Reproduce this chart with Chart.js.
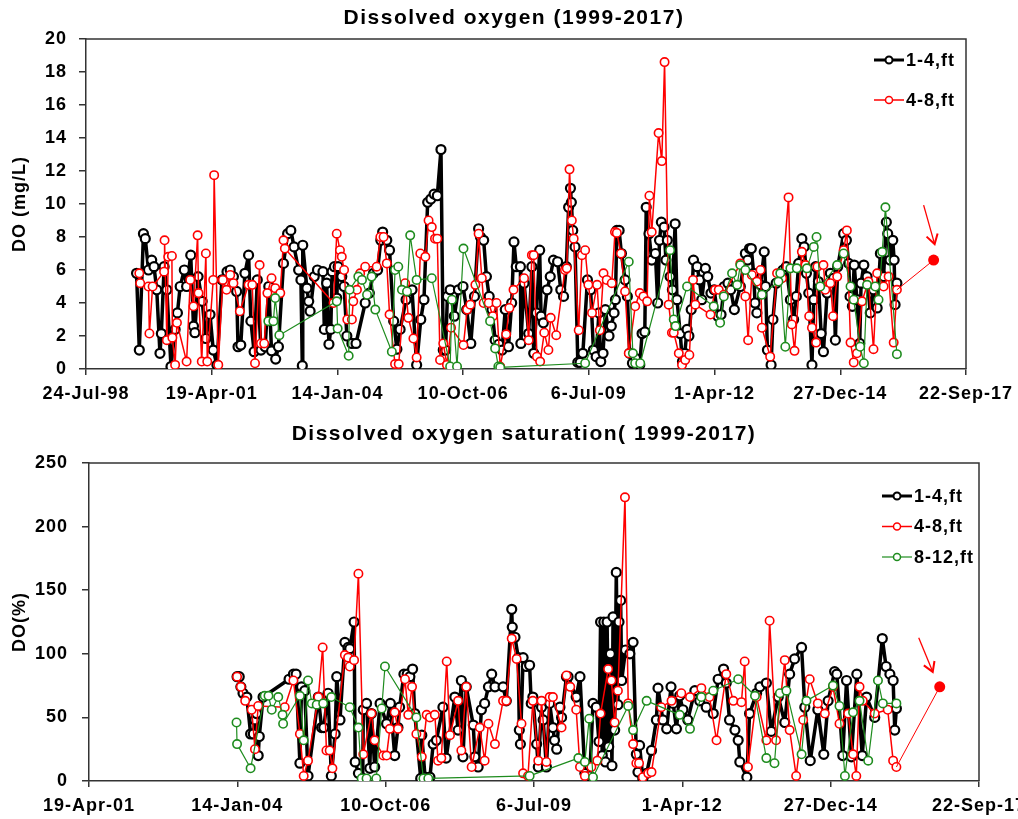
<!DOCTYPE html>
<html>
<head>
<meta charset="utf-8">
<script src="https://cdn.jsdelivr.net/npm/chart.js@4.4.0/dist/chart.umd.min.js"></script>
<style>
  html, body { margin: 0; padding: 0; background: #fff; }
  .panel { position: relative; width: 1018px; }
  canvas { display: block; }
</style>
</head>
<body>
<div class="panel" style="height:410px"><canvas id="chartDO"></canvas></div>
<div class="panel" style="height:409px"><canvas id="chartSat"></canvas></div>
<script>
// ---- axis ticks (dates as decimal years, labels as printed) ----
const DO_TICK_YEARS = [1998.559, 2001.297, 2004.035, 2006.773, 2009.511, 2012.249, 2014.987, 2017.725];
const DO_TICK_LABELS = ['24-Jul-98', '19-Apr-01', '14-Jan-04', '10-Oct-06', '6-Jul-09', '1-Apr-12', '27-Dec-14', '22-Sep-17'];
const SAT_TICK_YEARS = [2001.297, 2004.035, 2006.773, 2009.511, 2012.249, 2014.987, 2017.725];
const SAT_TICK_LABELS = ['19-Apr-01', '14-Jan-04', '10-Oct-06', '6-Jul-09', '1-Apr-12', '27-Dec-14', '22-Sep-17'];

// ---- dissolved oxygen, mg/L : [year, value] ----
const doShallow = [
  [1999.66,5.8],[1999.72,1.15],[1999.81,8.2],[1999.85,7.9],[1999.92,6.0],[1999.99,6.6],[2000.04,6.2],[2000.10,4.8],
  [2000.17,0.95],[2000.20,2.15],[2000.26,6.2],[2000.32,4.8],[2000.41,0.15],[2000.50,2.4],[2000.55,3.4],[2000.61,5.0],
  [2000.70,6.0],[2000.75,5.0],[2000.84,6.9],[2000.90,2.6],[2000.93,2.2],[2001.00,5.6],[2001.09,4.1],[2001.17,1.85],
  [2001.26,3.3],[2001.33,1.15],[2001.41,0.25],[2001.52,5.4],[2001.63,5.9],[2001.70,6.0],[2001.77,5.6],[2001.84,4.7],
  [2001.87,1.35],[2001.93,1.45],[2002.02,5.8],[2002.10,6.9],[2002.15,2.9],[2002.22,1.05],[2002.29,5.4],[2002.37,1.15],
  [2002.46,1.35],[2002.54,5.0],[2002.60,1.1],[2002.69,0.6],[2002.75,1.35],[2002.86,6.4],[2002.95,8.2],[2003.02,8.4],
  [2003.09,7.4],[2003.19,6.0],[2003.24,5.4],[2003.27,0.2],[2003.28,7.5],[2003.37,4.9],[2003.41,4.1],[2003.44,3.5],
  [2003.53,5.6],[2003.60,6.0],[2003.72,5.9],[2003.75,2.4],[2003.80,5.2],[2003.85,1.5],[2003.89,2.4],[2003.92,5.9],
  [2003.97,6.2],[2004.02,4.3],[2004.05,6.2],[2004.13,5.6],[2004.18,5.0],[2004.24,2.0],[2004.35,1.55],[2004.44,1.55],
  [2004.64,4.0],[2004.73,4.6],[2004.82,5.8],[2004.91,6.0],[2004.98,7.8],[2005.02,8.3],[2005.11,7.8],[2005.17,7.2],
  [2005.26,2.9],[2005.33,1.2],[2005.40,2.4],[2005.53,4.2],[2005.66,4.8],[2005.76,0.25],[2005.85,3.0],[2005.92,4.2],
  [2006.00,10.1],[2006.07,10.3],[2006.14,10.6],[2006.21,10.5],[2006.29,13.3],[2006.34,1.15],[2006.39,1.15],[2006.43,4.4],
  [2006.49,4.8],[2006.58,3.2],[2006.67,4.8],[2006.77,5.0],[2006.85,3.6],[2006.94,1.55],[2007.02,4.4],[2007.11,8.5],
  [2007.15,8.0],[2007.22,7.8],[2007.28,5.6],[2007.34,4.4],[2007.40,3.6],[2007.47,1.75],[2007.55,1.5],[2007.62,1.15],
  [2007.69,3.6],[2007.76,1.35],[2007.83,4.0],[2007.88,7.7],[2007.93,6.2],[2008.02,6.2],[2008.03,1.55],[2008.10,5.2],
  [2008.20,2.15],[2008.27,6.2],[2008.31,0.95],[2008.37,3.4],[2008.44,7.2],[2008.47,3.2],[2008.52,2.8],[2008.60,4.8],
  [2008.67,5.6],[2008.74,6.6],[2008.83,6.5],[2008.90,4.8],[2008.96,4.4],[2009.02,6.2],[2009.07,9.8],[2009.11,10.95],
  [2009.13,10.1],[2009.16,8.4],[2009.21,7.4],[2009.27,0.4],[2009.32,0.4],[2009.38,0.95],[2009.48,5.4],[2009.55,4.8],
  [2009.61,1.15],[2009.67,0.75],[2009.73,3.4],[2009.77,0.45],[2009.82,0.95],[2009.87,3.6],[2009.95,2.0],[2010.00,2.6],
  [2010.06,3.4],[2010.09,4.2],[2010.12,8.4],[2010.17,8.4],[2010.22,7.0],[2010.30,5.4],[2010.35,4.4],[2010.40,0.95],
  [2010.46,0.35],[2010.53,0.65],[2010.62,0.25],[2010.67,2.15],[2010.73,2.25],[2010.76,9.8],[2010.82,8.2],[2010.88,6.6],
  [2010.96,7.0],[2011.01,4.0],[2011.05,7.8],[2011.09,8.9],[2011.15,8.6],[2011.19,6.6],[2011.22,7.8],[2011.28,5.6],
  [2011.33,4.8],[2011.39,8.8],[2011.43,4.2],[2011.50,2.15],[2011.55,0.45],[2011.60,0.95],[2011.65,2.4],[2011.69,2.0],
  [2011.74,3.6],[2011.79,6.6],[2011.87,6.2],[2011.92,5.4],[2011.97,4.2],[2012.05,6.1],[2012.10,5.6],[2012.17,4.6],
  [2012.24,4.8],[2012.32,3.2],[2012.39,3.3],[2012.46,5.0],[2012.54,5.2],[2012.60,4.8],[2012.68,3.6],[2012.81,5.0],
  [2012.92,7.0],[2012.97,6.6],[2013.01,7.3],[2013.05,7.3],[2013.10,5.8],[2013.13,4.0],[2013.17,3.4],[2013.25,5.1],
  [2013.33,7.1],[2013.36,5.0],[2013.40,1.15],[2013.48,0.25],[2013.52,3.0],[2013.59,5.2],[2013.68,5.8],[2013.74,6.0],
  [2013.81,6.2],[2013.90,4.2],[2013.97,3.0],[2014.03,4.4],[2014.08,6.4],[2014.15,7.9],[2014.20,7.4],[2014.25,5.8],
  [2014.30,4.6],[2014.37,0.25],[2014.41,4.2],[2014.45,6.2],[2014.51,5.3],[2014.57,2.15],[2014.62,1.05],[2014.70,4.6],
  [2014.77,5.8],[2014.84,5.5],[2014.88,1.75],[2014.93,6.2],[2015.06,8.2],[2015.12,7.8],[2015.17,6.4],[2015.20,4.4],
  [2015.25,3.8],[2015.29,6.3],[2015.35,4.2],[2015.41,1.55],[2015.44,5.2],[2015.50,6.3],[2015.57,5.6],[2015.64,3.4],
  [2015.71,4.8],[2015.79,3.7],[2015.86,7.0],[2015.93,5.6],[2015.99,8.9],[2016.02,8.2],[2016.07,6.6],[2016.13,7.8],
  [2016.16,6.6],[2016.18,3.9],[2016.22,5.2]
];
const doMid = [
  [1999.72,5.8],[1999.74,5.2],[1999.92,5.0],[1999.94,2.15],[2000.01,5.0],[2000.26,5.9],[2000.27,7.8],[2000.32,1.75],
  [2000.35,6.8],[2000.43,6.85],[2000.44,1.9],[2000.50,0.25],[2000.54,2.8],[2000.75,0.45],[2000.83,5.4],[2000.90,3.8],
  [2000.99,8.1],[2001.01,4.6],[2001.08,0.45],[2001.17,7.0],[2001.20,0.45],[2001.33,5.4],[2001.35,11.75],[2001.44,0.25],
  [2001.54,5.4],[2001.62,4.8],[2001.70,5.7],[2001.77,5.2],[2001.91,3.5],[2002.10,5.1],[2002.18,5.1],[2002.24,0.35],
  [2002.34,6.3],[2002.37,1.55],[2002.44,1.55],[2002.51,4.6],[2002.60,5.5],[2002.68,4.9],[2002.79,4.6],[2002.86,7.8],
  [2002.89,7.3],[2003.95,4.0],[2004.02,8.2],[2004.09,7.2],[2004.13,6.8],[2004.18,6.0],[2004.25,3.0],[2004.35,3.0],
  [2004.38,4.1],[2004.46,4.8],[2004.53,5.8],[2004.64,6.2],[2004.89,6.2],[2004.97,8.0],[2005.04,8.0],[2005.11,6.4],
  [2005.17,3.3],[2005.29,0.3],[2005.37,0.3],[2005.51,5.2],[2005.58,3.1],[2005.69,1.85],[2005.76,0.7],[2005.84,7.0],
  [2005.95,6.8],[2006.02,9.0],[2006.09,8.6],[2006.16,7.9],[2006.21,7.9],[2006.27,0.55],[2006.34,1.55],[2006.42,0.25],
  [2006.51,2.5],[2006.78,1.45],[2006.86,3.6],[2006.93,3.9],[2007.04,5.1],[2007.11,8.2],[2007.18,5.5],[2007.22,4.0],
  [2007.33,4.0],[2007.42,3.2],[2007.50,4.0],[2007.58,0.15],[2007.71,2.1],[2007.78,3.7],[2007.87,4.8],[2008.10,5.5],
  [2008.20,1.75],[2008.27,6.9],[2008.31,6.9],[2008.38,0.75],[2008.45,0.45],[2008.54,2.2],[2008.63,1.15],[2008.68,3.1],
  [2008.80,2.05],[2008.99,6.0],[2009.03,6.1],[2009.09,12.1],[2009.14,9.0],[2009.18,7.9],[2009.29,2.35],[2009.36,6.9],
  [2009.43,7.2],[2009.50,5.1],[2009.58,3.4],[2009.69,5.1],[2009.75,2.35],[2009.83,5.8],[2009.90,5.4],[2010.01,5.2],
  [2010.08,8.3],[2010.12,8.25],[2010.21,7.0],[2010.30,4.7],[2010.38,0.95],[2010.52,3.8],[2010.62,4.6],[2010.70,4.4],
  [2010.78,4.1],[2010.83,10.5],[2010.88,8.3],[2011.03,14.3],[2011.10,12.6],[2011.16,18.6],[2011.25,3.9],[2011.32,2.2],
  [2011.36,2.2],[2011.47,0.95],[2011.54,0.25],[2011.61,0.55],[2011.70,0.85],[2011.78,5.4],[2011.83,3.9],[2012.16,3.3],
  [2012.26,4.8],[2012.34,4.8],[2012.45,4.5],[2012.81,6.4],[2012.92,4.4],[2012.98,1.75],[2013.06,5.7],[2013.17,5.3],
  [2013.25,6.0],[2013.28,2.5],[2013.46,0.75],[2013.61,5.8],[2013.72,5.5],[2013.86,10.4],[2013.93,2.7],[2013.99,1.1],
  [2014.15,7.1],[2014.23,6.3],[2014.31,3.2],[2014.37,2.5],[2014.46,1.6],[2014.49,6.2],[2014.62,6.3],[2014.66,4.8],
  [2014.77,5.2],[2014.83,3.2],[2014.92,5.6],[2015.06,7.2],[2015.13,8.4],[2015.21,1.6],[2015.28,0.4],[2015.35,0.95],
  [2015.46,4.1],[2015.60,5.3],[2015.71,1.2],[2015.79,5.8],[2015.93,5.0],[2016.04,5.6],[2016.15,1.6],[2016.22,4.8]
];
const doDeep = [
  [2002.53,2.9],[2002.64,2.9],[2002.68,4.3],[2002.77,2.05],[2004.02,4.1],[2004.04,2.45],[2004.28,0.8],[2004.30,4.8],
  [2004.49,5.6],[2004.57,5.4],[2004.68,4.5],[2004.78,5.6],[2004.86,3.6],[2005.22,1.05],[2005.29,6.0],[2005.36,6.2],
  [2005.44,4.8],[2005.55,4.7],[2005.62,8.1],[2005.76,5.4],[2006.09,5.5],[2006.49,0.15],[2006.53,4.2],[2006.64,0.15],
  [2006.78,7.3],[2007.36,2.9],[2007.47,1.25],[2007.54,0.15],[2007.58,0.1],[2009.43,0.35],[2010.38,6.5],[2010.47,0.95],
  [2010.52,0.35],[2010.63,0.35],[2011.28,7.2],[2011.36,3.0],[2011.40,2.6],[2011.65,5.0],[2012.23,3.8],[2012.37,2.8],
  [2012.45,4.4],[2012.63,5.8],[2012.74,5.1],[2012.81,6.3],[2012.92,6.0],[2013.28,4.5],[2013.64,5.3],[2013.68,5.8],
  [2013.79,1.35],[2013.90,6.1],[2014.04,6.1],[2014.26,6.1],[2014.41,7.4],[2014.47,8.0],[2014.55,5.0],[2014.92,6.3],
  [2015.06,7.0],[2015.21,5.0],[2015.28,4.2],[2015.42,1.35],[2015.50,0.35],[2015.57,5.1],[2015.75,5.0],[2015.82,4.2],
  [2015.90,7.1],[2015.97,9.8],[2016.22,0.9]
];
const doLatest = [2017.02, 6.6];

// ---- dissolved oxygen saturation, % : [year, value] ----
const satShallow = [
  [2004.03,82],[2004.07,82],[2004.10,74],[2004.14,69],[2004.21,66],[2004.28,37],[2004.33,37],[2004.36,48],[2004.39,53],
  [2004.42,20],[2004.44,35],[2004.51,66],[2004.99,80],[2005.07,84],[2005.12,84],[2005.19,14],[2005.22,74],[2005.28,71],
  [2005.34,4],[2005.53,66],[2005.59,42],[2005.63,42],[2005.71,69],[2005.77,4],[2005.84,37],[2005.87,82],[2005.93,48],
  [2006.02,109],[2006.08,105],[2006.11,104],[2006.19,125],[2006.21,15],[2006.27,6],[2006.35,2],[2006.36,56],[2006.42,61],
  [2006.48,10],[2006.51,53],[2006.57,11],[2006.67,61],[2006.79,45],[2006.86,61],[2006.94,20],[2007.00,42],[2007.03,58],
  [2007.11,84],[2007.17,84],[2007.22,82],[2007.27,88],[2007.31,53],[2007.42,2],[2007.44,36],[2007.50,3],[2007.59,3],
  [2007.65,29],[2007.71,32],[2007.83,58],[2007.89,18],[2008.05,66],[2008.11,40],[2008.17,79],[2008.20,19],[2008.26,74],
  [2008.39,44],[2008.42,19],[2008.48,11],[2008.54,56],[2008.60,61],[2008.67,74],[2008.73,84],[2008.79,74],[2008.94,74],
  [2009.00,63],[2009.10,135],[2009.11,121],[2009.16,113],[2009.22,97],[2009.24,40],[2009.26,29],[2009.31,97],[2009.37,90],
  [2009.43,91],[2009.46,61],[2009.49,66],[2009.56,29],[2009.59,11],[2009.65,58],[2009.68,48],[2009.74,11],[2009.80,61],
  [2009.86,42],[2009.89,32],[2009.93,25],[2009.99,58],[2010.02,50],[2010.11,82],[2010.14,82],[2010.29,66],[2010.36,82],
  [2010.45,6],[2010.51,3],[2010.54,4],[2010.60,61],[2010.66,58],[2010.71,31],[2010.74,125],[2010.77,20],[2010.80,125],
  [2010.83,15],[2010.86,125],[2010.89,27],[2010.92,100],[2010.95,12],[2010.97,129],[2011.00,40],[2011.03,164],[2011.06,60],
  [2011.08,125],[2011.11,142],[2011.13,79],[2011.20,103],[2011.28,100],[2011.34,109],[2011.40,21],
  [2011.43,7],[2011.46,28],[2011.52,2],[2011.59,6],[2011.68,24],[2011.77,48],[2011.80,73],[2011.89,48],[2011.96,41],
  [2012.04,74],[2012.08,61],[2012.14,41],[2012.20,67],[2012.26,56],[2012.35,48],[2012.48,71],[2012.57,63],[2012.69,58],
  [2012.82,53],[2012.91,80],[2013.01,88],[2013.06,77],[2013.12,48],[2013.22,40],[2013.28,32],[2013.31,15],[2013.44,3],
  [2013.49,53],[2013.62,69],[2013.68,74],[2013.80,77],[2013.89,39],[2014.02,66],[2014.14,46],[2014.23,84],[2014.32,96],
  [2014.45,105],[2014.51,58],[2014.61,16],[2014.75,56],[2014.86,21],[2014.94,63],[2015.06,86],[2015.10,84],[2015.21,20],
  [2015.28,79],[2015.37,19],[2015.47,84],[2015.57,20],[2015.65,66],[2015.80,50],[2015.94,112],[2016.01,90],[2016.08,84],
  [2016.14,79],[2016.17,40],[2016.20,57]
];
const satMid = [
  [2004.03,82],[2004.10,74],[2004.18,63],[2004.30,56],[2004.36,25],[2004.42,59],[2004.91,58],[2005.07,79],[2005.19,37],
  [2005.26,4],[2005.34,16],[2005.53,66],[2005.61,105],[2005.68,24],[2005.74,24],[2005.79,10],[2006.02,99],[2006.08,97],
  [2006.11,90],[2006.19,95],[2006.27,163],[2006.36,21],[2006.51,53],[2006.57,32],[2006.73,20],[2006.79,20],[2006.85,41],
  [2006.94,54],[2007.00,41],[2007.13,80],[2007.19,52],[2007.26,74],[2007.34,37],[2007.44,19],[2007.53,52],[2007.59,50],
  [2007.68,52],[2007.74,16],[2007.80,18],[2007.90,94],[2007.96,36],[2008.11,63],[2008.17,24],[2008.26,74],[2008.36,11],
  [2008.51,42],[2008.60,16],[2008.67,45],[2008.79,29],[2008.94,63],[2009.00,63],[2009.10,112],[2009.19,96],[2009.28,45],
  [2009.31,6],[2009.40,4],[2009.49,63],[2009.59,16],[2009.65,63],[2009.74,15],[2009.80,66],[2009.86,66],[2010.02,42],
  [2010.11,83],[2010.18,74],[2010.29,56],[2010.36,11],[2010.45,4],[2010.57,11],[2010.68,16],[2010.74,53],[2010.88,88],
  [2010.94,79],[2011.00,46],[2011.06,71],[2011.19,223],[2011.25,61],[2011.34,29],[2011.40,14],[2011.45,14],[2011.52,3],
  [2011.62,6],[2011.68,7],[2011.86,58],[2012.05,63],[2012.23,69],[2012.39,66],[2012.60,73],[2012.75,66],[2012.88,32],
  [2013.06,84],[2013.19,63],[2013.34,62],[2013.40,94],[2013.46,11],[2013.62,66],[2013.80,32],[2013.86,126],[2013.98,32],
  [2014.14,95],[2014.23,40],[2014.35,4],[2014.48,48],[2014.60,80],[2014.75,61],[2014.88,53],[2015.03,74],[2015.15,45],
  [2015.31,53],[2015.40,21],[2015.46,4],[2015.52,74],[2015.58,63],[2015.80,53],[2016.04,56],[2016.14,16],[2016.20,11]
];
const satDeep = [
  [2004.02,46],[2004.03,29],[2004.28,10],[2004.54,67],[2004.61,67],[2004.67,56],[2004.79,66],[2004.87,52],[2004.88,45],
  [2005.19,67],[2005.26,32],[2005.34,79],[2005.41,61],[2005.50,60],[2005.62,61],[2005.77,66],[2006.11,58],[2006.27,42],
  [2006.33,2],[2006.42,2],[2006.60,2],[2006.70,57],[2006.76,90],[2007.34,50],[2007.47,2],[2007.56,2],[2009.43,4],
  [2010.33,18],[2010.45,15],[2010.53,49],[2010.60,3],[2011.25,59],[2011.34,40],[2011.59,63],[2012.20,52],[2012.39,41],
  [2012.60,66],[2012.82,71],[2013.28,80],[2013.59,67],[2013.80,18],[2013.95,14],[2014.05,69],[2014.17,71],[2014.45,21],
  [2014.54,63],[2015.03,75],[2015.15,59],[2015.25,4],[2015.40,54],[2015.52,63],[2015.68,16],[2015.86,79],[2015.95,61],
  [2016.20,61]
];
const satLatest = [2017.00, 74];

const SERIES_NAMES = ['1-4,ft', '4-8,ft', '8-12,ft'];

// ---- styling ----
const BLACK = '#000000';
const RED = '#ff0000';
const GREEN = '#1e8c1e';
const AXIS = '#333333';
const FONT = "'Liberation Sans', Arial, sans-serif";

const toPts = arr => arr.map(([x, y]) => ({ x, y }));

function seriesDataset(label, pts, color, lineW, radius, markW, order) {
  return {
    label, data: toPts(pts), order,
    borderColor: color, borderWidth: lineW, borderJoinStyle: 'round',
    pointRadius: radius, pointHoverRadius: radius,
    pointBorderColor: color, pointBorderWidth: markW,
    pointBackgroundColor: '#ffffff', tension: 0
  };
}

// last sample joined to the highlighted latest reading
function latestDataset(lastPt, latest) {
  return {
    label: 'latest', order: 0,
    data: toPts([lastPt, latest]),
    borderColor: RED, borderWidth: 1,
    pointRadius: [0, 5.5], pointBorderWidth: 0,
    pointBackgroundColor: RED, pointBorderColor: RED, tension: 0
  };
}

// titles, boxed frame, legend and pointer arrow drawn straight on the canvas
const decorPlugin = {
  id: 'decor',
  beforeDraw(chart) {
    chart.ctx.letterSpacing = '1px';
  },
  afterDraw(chart, args, o) {
    const { ctx, chartArea: a } = chart;
    ctx.save();
    // top and right edges of the plot box
    ctx.strokeStyle = AXIS;
    ctx.lineWidth = 1.5;
    ctx.beginPath();
    ctx.moveTo(a.left, a.top);
    ctx.lineTo(a.right, a.top);
    ctx.lineTo(a.right, a.bottom);
    ctx.stroke();

    // chart title
    ctx.fillStyle = '#000';
    ctx.letterSpacing = '1.5px';
    ctx.font = 'bold 21px ' + FONT;
    ctx.textAlign = 'center';
    ctx.textBaseline = 'middle';
    ctx.fillText(o.title, (a.left + a.right) / 2 + o.titleDx, o.titleY);

    // y axis title
    ctx.letterSpacing = '1px';
    ctx.font = 'bold 18px ' + FONT;
    ctx.save();
    ctx.translate(o.yTitleX, (a.top + a.bottom) / 2);
    ctx.rotate(-Math.PI / 2);
    ctx.fillText(o.yTitle, 0, 0);
    ctx.restore();

    // legend
    ctx.textAlign = 'left';
    o.legend.forEach((item, i) => {
      const y = o.legendY + i * o.legendDy;
      const x0 = o.legendX;
      ctx.strokeStyle = item.color;
      ctx.lineWidth = item.lineW;
      ctx.beginPath();
      ctx.moveTo(x0, y);
      ctx.lineTo(x0 + 30, y);
      ctx.stroke();
      ctx.beginPath();
      ctx.arc(x0 + 15, y, 3.5, 0, Math.PI * 2);
      ctx.fillStyle = '#fff';
      ctx.fill();
      ctx.lineWidth = item.markW;
      ctx.stroke();
      ctx.fillStyle = '#000';
      ctx.fillText(item.label, x0 + 32, y + 1);
    });

    // arrow pointing at the latest reading
    const meta = chart.getDatasetMeta(chart.data.datasets.length - 1);
    const dot = meta.data[1];
    const sx = dot.x + o.arrow[0], sy = dot.y + o.arrow[1];
    const tx = dot.x + o.arrow[2], ty = dot.y + o.arrow[3];
    const ang = Math.atan2(ty - sy, tx - sx);
    ctx.strokeStyle = RED;
    ctx.lineWidth = 1.3;
    ctx.beginPath();
    ctx.moveTo(sx, sy);
    ctx.lineTo(tx, ty);
    ctx.stroke();
    ctx.lineWidth = 2;
    ctx.beginPath();
    ctx.moveTo(tx - 11 * Math.cos(ang - 0.55), ty - 11 * Math.sin(ang - 0.55));
    ctx.lineTo(tx, ty);
    ctx.lineTo(tx - 11 * Math.cos(ang + 0.55), ty - 11 * Math.sin(ang + 0.55));
    ctx.stroke();
    ctx.restore();
  }
};

function makeScales(xMin, xMax, tickYears, tickLabels, yMax, yStep, xHeight, yWidth, yPad) {
  const tickFont = { family: FONT, size: 18, weight: 'bold' };
  return {
    x: {
      type: 'linear', min: xMin, max: xMax,
      afterBuildTicks: ax => { ax.ticks = tickYears.map(v => ({ value: v })); },
      afterFit: s => { s.height = xHeight; s.paddingLeft = 0; s.paddingRight = 0; },
      ticks: { autoSkip: false, maxRotation: 0, color: '#000', font: tickFont, padding: 8,
               callback: (v, i) => tickLabels[i] },
      grid: { drawOnChartArea: false, drawTicks: true, tickLength: 6, color: AXIS, lineWidth: 1.5 },
      border: { color: AXIS, width: 1.5 }
    },
    y: {
      min: 0, max: yMax,
      afterFit: s => { s.width = yWidth; s.paddingTop = 0; s.paddingBottom = 0; },
      ticks: { stepSize: yStep, color: '#000', font: tickFont, padding: yPad },
      grid: { drawOnChartArea: false, drawTicks: true, tickLength: 7, color: AXIS, lineWidth: 1.5 },
      border: { color: AXIS, width: 1.5 }
    }
  };
}

const baseOpts = {
  responsive: true, maintainAspectRatio: false, animation: false,
  events: []
};

new Chart(document.getElementById('chartDO'), {
  type: 'line',
  data: {
    datasets: [
      seriesDataset(SERIES_NAMES[0], doShallow, BLACK, 3.5, 4.5, 2.2, 3),
      seriesDataset(SERIES_NAMES[1], doMid, RED, 1.5, 4.2, 1.6, 2),
      seriesDataset(SERIES_NAMES[2], doDeep, GREEN, 1.2, 4.2, 1.6, 1),
      latestDataset(doMid[doMid.length - 1], doLatest)
    ]
  },
  options: {
    ...baseOpts,
    layout: { padding: { top: 39, right: 52, bottom: 0, left: 0 } },
    scales: makeScales(DO_TICK_YEARS[0], DO_TICK_YEARS[7], DO_TICK_YEARS, DO_TICK_LABELS, 20, 2, 41, 86, 12),
    plugins: {
      legend: { display: false }, tooltip: { enabled: false },
      decor: {
        title: 'Dissolved oxygen (1999-2017)', titleDx: -12, titleY: 18,
        yTitle: 'DO (mg/L)', yTitleX: 20,
        legendX: 874, legendY: 60, legendDy: 40,
        legend: [
          { label: SERIES_NAMES[0], color: BLACK, lineW: 3, markW: 2 },
          { label: SERIES_NAMES[1], color: RED, lineW: 1.5, markW: 1.5 }
        ],
        arrow: [-10, -55, 1, -16]
      }
    }
  },
  plugins: [decorPlugin]
});

new Chart(document.getElementById('chartSat'), {
  type: 'line',
  data: {
    datasets: [
      seriesDataset(SERIES_NAMES[0], satShallow, BLACK, 3.5, 4.5, 2.2, 3),
      seriesDataset(SERIES_NAMES[1], satMid, RED, 1.5, 4.2, 1.6, 2),
      seriesDataset(SERIES_NAMES[2], satDeep, GREEN, 1.2, 4.2, 1.6, 1),
      latestDataset(satMid[satMid.length - 1], satLatest)
    ]
  },
  options: {
    ...baseOpts,
    layout: { padding: { top: 53, right: 39, bottom: 0, left: 0 } },
    scales: makeScales(SAT_TICK_YEARS[0], SAT_TICK_YEARS[6], SAT_TICK_YEARS, SAT_TICK_LABELS, 250, 50, 38, 89, 14),
    plugins: {
      legend: { display: false }, tooltip: { enabled: false },
      decor: {
        title: 'Dissolved oxygen saturation( 1999-2017)', titleDx: -10, titleY: 24,
        yTitle: 'DO(%)', yTitleX: 20,
        legendX: 882, legendY: 86, legendDy: 30.5,
        legend: [
          { label: SERIES_NAMES[0], color: BLACK, lineW: 3, markW: 2 },
          { label: SERIES_NAMES[1], color: RED, lineW: 1.5, markW: 1.5 },
          { label: SERIES_NAMES[2], color: GREEN, lineW: 1.2, markW: 1.5 }
        ],
        arrow: [-21, -49, -7, -15]
      }
    }
  },
  plugins: [decorPlugin]
});
</script>
</body>
</html>
